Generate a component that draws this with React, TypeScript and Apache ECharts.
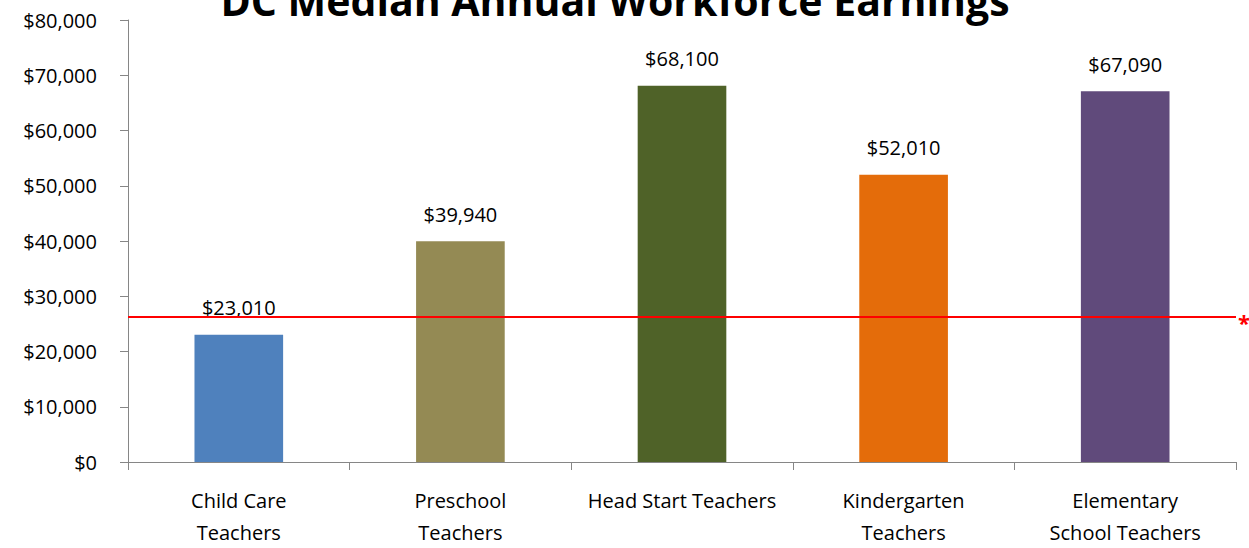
import React, { useEffect, useRef } from "react";
import * as echarts from "echarts";

const categories = [
  "Child Care\nTeachers",
  "Preschool\nTeachers",
  "Head Start Teachers",
  "Kindergarten\nTeachers",
  "Elementary\nSchool Teachers",
];
const earnings = [23010, 39940, 68100, 52010, 67090];
const barColors = ["#4F81BD", "#948A54", "#4F6228", "#E46C0A", "#604A7B"];
const referenceLine = 26300;
const titleText = "DC Median Annual Workforce Earnings";

const fmt = (v: number) => "$" + v.toLocaleString("en-US");

export default function App() {
  const ref = useRef<HTMLDivElement>(null);
  useEffect(() => {
    if (!ref.current) return;
    const chart = echarts.init(ref.current, null, { renderer: "svg" });
    const font = "'Open Sans', 'Noto Sans', sans-serif";
    chart.setOption({
      animation: false,
      backgroundColor: "#ffffff",
      title: {
        text: titleText,
        left: 610,
        textAlign: "center",
        top: -26,
        textStyle: { fontFamily: font, fontWeight: "bold", fontSize: 41, color: "#000" },
      },
      grid: { left: 128, right: 13, top: 20, bottom: 81, containLabel: false },
      xAxis: {
        type: "category",
        data: categories,
        axisLine: { lineStyle: { color: "#868686", width: 1 } },
        axisTick: { show: true, length: 8, lineStyle: { color: "#868686" } },
        axisLabel: {
          color: "#000",
          fontFamily: font,
          fontSize: 20,
          lineHeight: 32,
          margin: 22,
          interval: 0,
        },
      },
      yAxis: {
        type: "value",
        min: 0,
        max: 80000,
        interval: 10000,
        axisLine: { show: true, lineStyle: { color: "#868686", width: 1 } },
        axisTick: { show: true, length: 8, lineStyle: { color: "#868686" } },
        splitLine: { show: false },
        axisLabel: {
          color: "#000",
          fontFamily: font,
          fontSize: 20,
          margin: 31,
          formatter: (v: number) => fmt(v),
        },
      },
      series: [
        {
          type: "bar",
          barWidth: "40%",
          data: earnings.map((v, i) => ({ value: v, itemStyle: { color: barColors[i] } })),
          label: {
            show: true,
            position: "top",
            distance: 17,
            color: "#000",
            fontFamily: font,
            fontSize: 20,
            formatter: (p: any) => fmt(p.value),
          },
          markLine: {
            silent: true,
            symbol: ["none", "none"],
            lineStyle: { color: "#FF0000", width: 2, type: "solid" },
            label: {
              show: true,
              position: "end",
              formatter: "*",
              color: "#FF0000",
              fontWeight: "bold",
              fontSize: 22,
              fontFamily: font,
              distance: 2,
              offset: [0, 5],
            },
            data: [{ yAxis: referenceLine }],
          },
        },
      ],
    });
    return () => chart.dispose();
  }, []);
  return <div ref={ref} style={{ width: 1249, height: 548, position: "absolute", left: 0, top: 0 }} />;
}
